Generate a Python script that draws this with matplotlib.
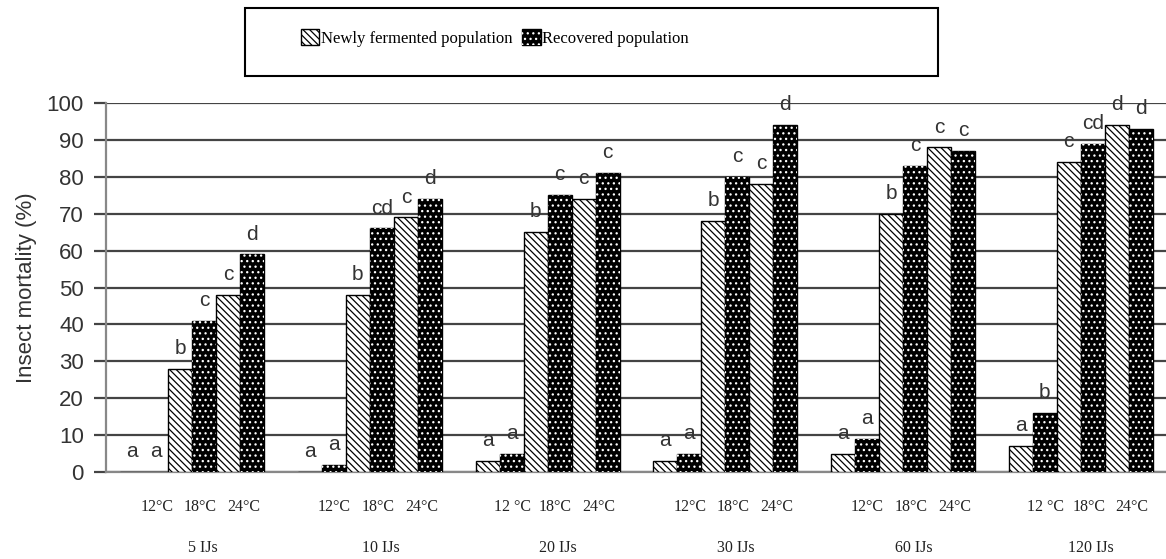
import numpy as np
import matplotlib
matplotlib.use('Agg')
import matplotlib.pyplot as plt
from matplotlib.patches import Patch, Rectangle
from matplotlib.legend_handler import HandlerTuple

# Data
groups = ['5 IJs', '10 IJs', '20 IJs', '30 IJs', '60 IJs', '120 IJs']
temp_labels = [
    ['12°C', '18°C', '24°C'],
    ['12°C', '18°C', '24°C'],
    ['12 °C', '18°C', '24°C'],
    ['12°C', '18°C', '24°C'],
    ['12°C', '18°C', '24°C'],
    ['12 °C', '18°C', '24°C'],
]
# newly fermented population, at 12, 18, 24 °C
newly = [
    [0, 28, 48],
    [0, 48, 69],
    [3, 65, 74],
    [3, 68, 78],
    [5, 70, 88],
    [7, 84, 94],
]
# recovered population, at 12, 18, 24 °C
recovered = [
    [0, 41, 59],
    [2, 66, 74],
    [5, 75, 81],
    [5, 80, 94],
    [9, 83, 87],
    [16, 89, 93],
]
# significance letters, order: newly12, rec12, newly18, rec18, newly24, rec24
letters = [
    ['a', 'a', 'b', 'c', 'c', 'd'],
    ['a', 'a', 'b', 'cd', 'c', 'd'],
    ['a', 'a', 'b', 'c', 'c', 'c'],
    ['a', 'a', 'b', 'c', 'c', 'd'],
    ['a', 'a', 'b', 'c', 'c', 'c'],
    ['a', 'b', 'c', 'cd', 'd', 'd'],
]

plt.rcParams['hatch.linewidth'] = 0.9

fig = plt.figure(figsize=(11.66, 5.59), dpi=100)
ax = fig.add_axes([106 / 1166, 1 - 472 / 559, 1 - 106 / 1166, 369 / 559])

w = 0.135
grid_col = '#444444'
text_col = '#333333'
new_hatch = '\\\\\\\\\\'
rec_hatch = '...'

for g in range(len(groups)):
    for t in range(3):
        x_new = g + (2 * t - 2.5) * w
        x_rec = g + (2 * t + 1 - 2.5) * w
        # newly fermented: white with diagonal lines
        ax.bar(x_new, newly[g][t], width=w, facecolor='white', edgecolor='black',
               hatch=new_hatch, linewidth=1, zorder=3)
        # recovered: black with white dots
        ax.bar(x_rec, recovered[g][t], width=w, facecolor='black', edgecolor='black',
               linewidth=1, zorder=3)
        ax.bar(x_rec, recovered[g][t], width=w, facecolor='none', edgecolor='white',
               hatch=rec_hatch, linewidth=0, zorder=4)
    vals = [newly[g][0], recovered[g][0], newly[g][1], recovered[g][1],
            newly[g][2], recovered[g][2]]
    for k in range(6):
        ax.text(g + (k - 2.5) * w, vals[k] + 4, letters[g][k], ha='center',
                va='baseline', fontsize=15, color=text_col, family='Liberation Sans',
                zorder=5)
    # temperature labels and group labels
    for t, off in enumerate([-0.2, 0.045, 0.29]):
        ax.text(g + off, -0.095, temp_labels[g][t], transform=ax.get_xaxis_transform(),
                ha='center', va='center', fontsize=11.5, family='Liberation Serif',
                color='#222222')
    ax.text(g + 0.06, -0.206, groups[g], transform=ax.get_xaxis_transform(),
            ha='center', va='center', fontsize=11.5, family='Liberation Serif',
            color='#222222')

ax.set_xlim(-0.485, 5.48)
ax.set_ylim(0, 100)
ax.set_yticks(range(0, 101, 10))
ax.set_xticks([])
ax.yaxis.grid(True, color=grid_col, linewidth=1.6, zorder=0)
ax.set_axisbelow(True)
for s in ['top', 'right']:
    ax.spines[s].set_visible(False)
ax.spines['left'].set_color('#888888')
ax.spines['left'].set_linewidth(1.6)
ax.spines['bottom'].set_color('#888888')
ax.spines['bottom'].set_linewidth(1.6)
ax.tick_params(axis='y', length=9, width=1.6, color=grid_col, labelsize=16,
               labelcolor=text_col, pad=7)
for lab in ax.get_yticklabels():
    lab.set_family('Liberation Sans')
ax.set_ylabel('Insect mortality (%)', fontsize=16, color=text_col,
              family='Liberation Sans', labelpad=7)

# legend with frame box
fig.patches.append(Rectangle((245 / 1166, 1 - 76 / 559), (938 - 245) / 1166, 68 / 559,
                             transform=fig.transFigure, facecolor='white',
                             edgecolor='black', linewidth=1.5))
h_new = Patch(facecolor='white', edgecolor='black', hatch=new_hatch, linewidth=1)
h_rec = (Patch(facecolor='black', edgecolor='black', linewidth=1),
         Patch(facecolor='none', edgecolor='white', hatch=rec_hatch, linewidth=0))
fig.legend([h_new, h_rec], ['Newly fermented population', 'Recovered population'],
           loc='center', bbox_to_anchor=(495 / 1166, 1 - 38 / 559), ncol=2,
           frameon=False, handler_map={tuple: HandlerTuple(ndivide=1)},
           prop={'family': 'Liberation Serif', 'size': 12},
           handlelength=1.1, handleheight=1.1, handletextpad=0.1,
           columnspacing=0.6)

fig.savefig('out.png', dpi=100)
